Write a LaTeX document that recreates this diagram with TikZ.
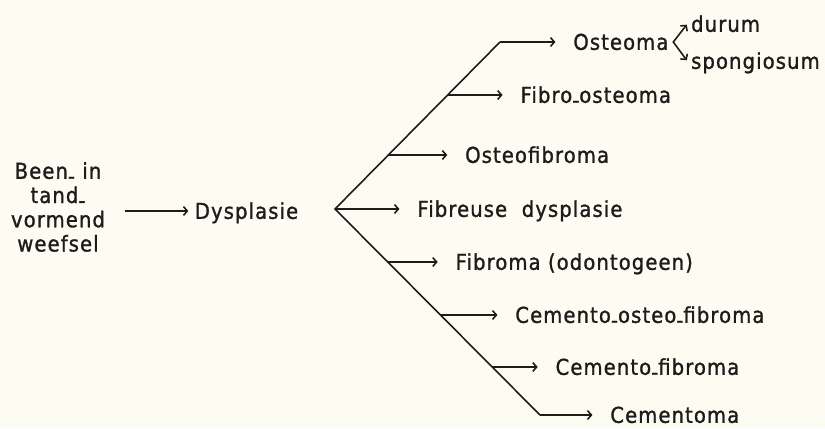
\documentclass[tikz,border=0pt]{standalone}
\usepackage{fontspec}
\setmainfont{DejaVu Sans}[FakeStretch=0.9,LetterSpace=5,FakeBold=1.2]
\usepackage{xcolor}
\usetikzlibrary{arrows.meta,positioning}
\definecolor{paper}{RGB}{253,252,243}
\definecolor{ink}{RGB}{30,28,26}
\newcommand{\lowhyph}{\raisebox{-0.23em}{-}}

\begin{document}
\begin{tikzpicture}[>={Straight Barb[length=2.2pt,width=5pt]},
  every node/.style={font=\fontsize{12.4}{13.8}\selectfont,text=ink},
  item/.style={anchor=west,inner sep=2pt,text height=9.4pt,text depth=0.5pt},
  arr/.style={->,ink,line width=0.9pt,shorten >=8pt}]
\fill[paper](0,0)rectangle(16.5,8.56);
\useasboundingbox(0,0)rectangle(16.5,8.56);
\node[align=center,inner sep=2pt](src)at(1.16,4.42){Been\lowhyph{} in\\tand\lowhyph\\vormend\\weefsel};
\node[item](dys)at(3.82,4.34){Dysplasie};
\draw[arr,shorten <=9pt,shorten >=1.5pt](src.east|-dys.west)--(dys.west);
%% fan
\coordinate(fan)at(6.70,4.38);
\coordinate(up)at(10.00,7.72);
\coordinate(dn)at(10.80,0.26);
\draw[ink,line width=0.9pt](up)--(fan)--(dn);
\coordinate(b2)at(8.953,6.66);
\coordinate(b3)at(7.767,5.46);
\coordinate(b5)at(7.755,3.32);
\coordinate(b6)at(8.810,2.26);
\coordinate(b7)at(9.845,1.22);
\node[item,right=1.39cm of up](ost){Osteoma};
\node[item,right=1.38cm of b2](fo){Fibro\lowhyph osteoma};
\node[item,right=1.46cm of b3](of){Osteofibroma};
\node[item,right=1.57cm of fan](fd){Fibreuse\ \ dysplasie};
\node[item,right=1.28cm of b5](fib){Fibroma (odontogeen)};
\node[item,right=1.42cm of b6](ceo){Cemento\lowhyph osteo\lowhyph fibroma};
\node[item,right=1.19cm of b7](cef){Cemento\lowhyph fibroma};
\node[item,right=1.33cm of dn](cem){Cementoma};
\draw[arr](up)--(ost.west);
\draw[arr](b2)--(fo.west);
\draw[arr](b3)--(of.west);
\draw[arr](fan)--(fd.west);
\draw[arr](b5)--(fib.west);
\draw[arr](b6)--(ceo.west);
\draw[arr](b7)--(cef.west);
\draw[arr](dn)--(cem.west);
%% osteoma
\coordinate[right=0.02cm of ost](brk);
\node[item](dur)at([shift={(0.28,0.36)}]brk){durum};
\node[item](spo)at([shift={(0.28,-0.38)}]brk){spongiosum};
\draw[<->,ink,line width=0.9pt,shorten <=0.5pt,shorten >=0.5pt](dur.west)--(brk)--(spo.west);
\end{tikzpicture}
\end{document}
